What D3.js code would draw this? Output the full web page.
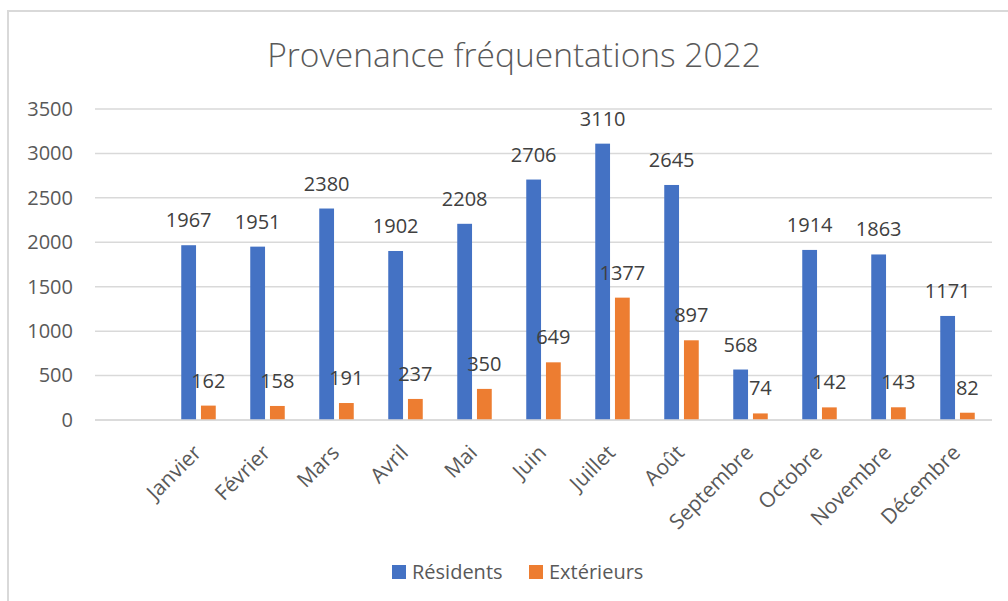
<!DOCTYPE html>
<html>
<head>
<meta charset="utf-8">
<script src="https://cdn.jsdelivr.net/npm/d3@7"></script>
<style>
    body { margin: 0; background: #fff; }
    text { font-family: "Open Sans", "Noto Sans", sans-serif; }
</style>
</head>
<body>
<svg id="chart" width="1008" height="601"></svg>
<script>
// first slot of the axis is empty in the original sheet
var months = ["", "Janvier", "Février", "Mars", "Avril", "Mai", "Juin", "Juillet", "Août", "Septembre", "Octobre", "Novembre", "Décembre"]
var residents = [null, 1967, 1951, 2380, 1902, 2208, 2706, 3110, 2645, 568, 1914, 1863, 1171]
var exterieurs = [null, 162, 158, 191, 237, 350, 649, 1377, 897, 74, 142, 143, 82]
var seriesNames = ["Résidents", "Extérieurs"]
var seriesColors = ["#4472C4", "#ED7D31"]
var yTicks = [0, 500, 1000, 1500, 2000, 2500, 3000, 3500]

var svg = d3.select("#chart")

// chart frame (only top and left edges visible in the crop)
svg.append("path")
    .attr("d", "M8,601 V11 H1008")
    .attr("fill", "none")
    .attr("stroke", "#d9d9d9")
    .attr("stroke-width", 2)

svg.append("text")
    .attr("x", 514)
    .attr("y", 67)
    .attr("text-anchor", "middle")
    .attr("font-size", 33.5)
    .attr("font-weight", 300)
    .attr("fill", "#595959")
    .text("Provenance fréquentations 2022")

var x0 = d3.scaleBand()
    .domain(months)
    .range([95, 992])

var bw = x0.bandwidth()
var x1 = d3.scaleBand()
    .domain(seriesNames)
    .range([bw * 0.25, bw * 0.75])
    .paddingInner(0.25)

var y = d3.scaleLinear()
    .domain([0, 3500])
    .range([420, 109])

// gridlines
svg.append("g")
    .selectAll("line")
    .data(yTicks)
    .enter()
        .append("line")
        .attr("x1", 95)
        .attr("x2", 992)
        .attr("y1", function(d){ return y(d) })
        .attr("y2", function(d){ return y(d) })
        .attr("stroke", "#d9d9d9")
        .attr("stroke-width", 1.5)

// y axis labels
var yAxis = svg.append("g")
    .attr("transform", "translate(95,0)")
    .call(d3.axisLeft(y).tickValues(yTicks).tickFormat(d3.format("d")).tickSize(0).tickPadding(22))
yAxis.select(".domain").remove()
yAxis.selectAll("text")
    .attr("font-size", 20)
    .attr("fill", "#595959")
    .style("font-family", "'Open Sans', 'Noto Sans', sans-serif")

var rows = months.map(function(m, i){
    return { month: m, values: [residents[i], exterieurs[i]] }
}).filter(function(r){ return r.month !== "" })

var groups = svg.append("g")
    .selectAll("g")
    .data(rows)
    .enter()
        .append("g")
        .attr("transform", function(d){ return "translate(" + x0(d.month) + ",0)" })

groups.selectAll("rect")
    .data(function(d){ return d.values })
    .enter()
        .append("rect")
        .attr("x", function(d, i){ return x1(seriesNames[i]) })
        .attr("width", x1.bandwidth())
        .attr("y", function(d){ return y(d) })
        .attr("height", function(d){ return y(0) - y(d) })
        .attr("fill", function(d, i){ return seriesColors[i] })

groups.selectAll("text")
    .data(function(d){ return d.values })
    .enter()
        .append("text")
        .attr("x", function(d, i){ return x1(seriesNames[i]) + x1.bandwidth() / 2 })
        .attr("y", function(d){ return y(d) - 18 })
        .attr("text-anchor", "middle")
        .attr("font-size", 20)
        .attr("fill", "#404040")
        .text(function(d){ return d })

// x axis line
svg.append("line")
    .attr("x1", 95)
    .attr("x2", 992)
    .attr("y1", y(0))
    .attr("y2", y(0))
    .attr("stroke", "#d9d9d9")
    .attr("stroke-width", 1.5)

// rotated month labels
svg.append("g")
    .selectAll("text")
    .data(rows)
    .enter()
        .append("text")
        .attr("transform", function(d){
            return "translate(" + (x0(d.month) + bw / 2 + 4) + ",454) rotate(-45)"
        })
        .attr("text-anchor", "end")
        .attr("font-size", 21)
        .attr("fill", "#595959")
        .text(function(d){ return d.month })

// legend
var legendX = [392, 529]
var legend = svg.append("g")
    .selectAll("g")
    .data(seriesNames)
    .enter()
        .append("g")
        .attr("transform", function(d, i){ return "translate(" + legendX[i] + ",565)" })
legend.append("rect")
    .attr("width", 14)
    .attr("height", 14)
    .attr("fill", function(d, i){ return seriesColors[i] })
legend.append("text")
    .attr("x", 20)
    .attr("y", 14)
    .attr("font-size", 20)
    .attr("fill", "#595959")
    .text(function(d){ return d })
</script>
</body>
</html>
